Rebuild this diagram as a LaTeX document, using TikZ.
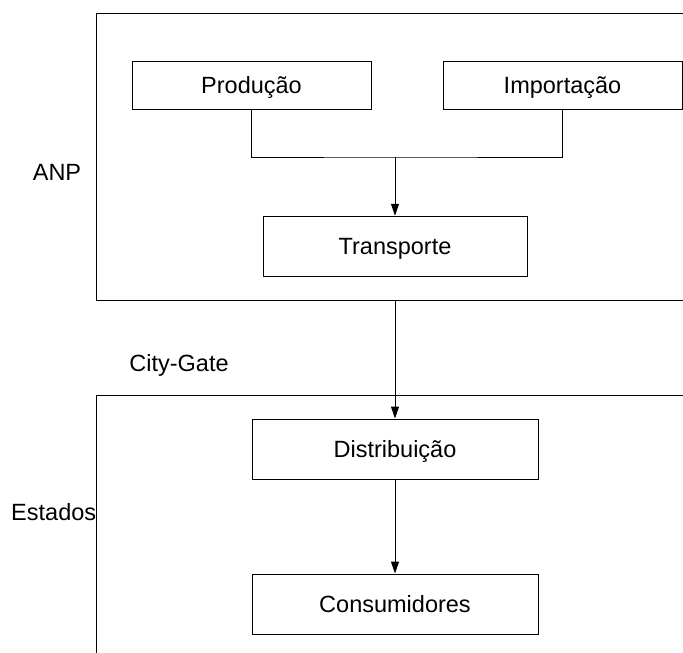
\documentclass[tikz,border=0pt]{standalone}
\usepackage{fontspec}
\setmainfont{Liberation Sans}
\usetikzlibrary{arrows.meta}
\begin{document}
\begin{tikzpicture}[x=1pt,y=-1pt,line width=1pt,
    every node/.style={font=\fontsize{23.5}{28}\selectfont,text height=16.8pt,text depth=0pt},
    bloco/.style={draw,inner sep=0pt},
    quadro/.style={draw,inner sep=0pt},
    >={Triangle[length=12pt,width=8pt]}]
    \useasboundingbox (0,0) rectangle (683,653);
    \clip (0,0) rectangle (683,653);
    \node[quadro,minimum width=604pt,minimum height=286.7pt] (ANPq) at (398,156.65) {};
    \node[quadro,minimum width=604pt,minimum height=280pt] (Estq) at (398,535) {};
    \node (ANP) at (57,172.5) {ANP};
    \node (Gate) at (179,363) {City-Gate};
    \node (Est) at (53.7,512.5) {Estados};
    \node[bloco,minimum width=239pt,minimum height=47.5pt] (Prod) at (251.5,85.25) {Produção};
    \node[bloco,minimum width=239pt,minimum height=47.5pt] (Imp) at (562.5,85.25) {Importação};
    \node[bloco,minimum width=264pt,minimum height=60pt] (Transp) at (395,246.25) {Transporte};
    \node[bloco,minimum width=286pt,minimum height=60pt] (Dist) at (395,449) {Distribuição};
    \node[bloco,minimum width=286pt,minimum height=60pt] (Cons) at (395,604) {Consumidores};
    \coordinate (Jun) at (395,157);
    \draw (Prod.south) |- (Jun) -| (Imp.south);
    \draw[->] (Jun) -- (Transp.north);
    \draw[->] (Transp |- ANPq.south) -- (Dist.north);
    \draw[->] (Dist) -- (Cons);
\end{tikzpicture}
\end{document}
